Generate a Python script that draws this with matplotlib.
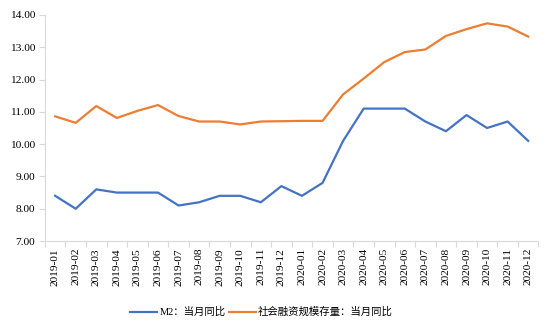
import matplotlib
matplotlib.use("Agg")
import matplotlib.pyplot as plt
from matplotlib.ticker import FixedLocator, NullFormatter

plt.rcParams['font.family'] = ['Liberation Serif', 'Noto Sans CJK SC', 'DejaVu Sans']

months = ["2019-01", "2019-02", "2019-03", "2019-04", "2019-05", "2019-06",
          "2019-07", "2019-08", "2019-09", "2019-10", "2019-11", "2019-12",
          "2020-01", "2020-02", "2020-03", "2020-04", "2020-05", "2020-06",
          "2020-07", "2020-08", "2020-09", "2020-10", "2020-11", "2020-12"]
m2 = [8.4, 8.0, 8.6, 8.5, 8.5, 8.5, 8.1, 8.2, 8.4, 8.4, 8.2, 8.7,
      8.4, 8.8, 10.1, 11.1, 11.1, 11.1, 10.7, 10.4, 10.9, 10.5, 10.7, 10.1]
tsf = [10.86, 10.66, 11.18, 10.81, 11.03, 11.21, 10.87, 10.70, 10.70, 10.61, 10.70, 10.71,
       10.72, 10.72, 11.54, 12.03, 12.54, 12.85, 12.93, 13.35, 13.56, 13.74, 13.64, 13.33]
series_names = ["M2：当月同比", "社会融资规模存量：当月同比"]
yticks = [7.0, 8.0, 9.0, 10.0, 11.0, 12.0, 13.0, 14.0]

fig = plt.figure(figsize=(5.54, 3.32), dpi=100)
ax = fig.add_axes([0.081, 0.274, 0.891, 0.681])

x = list(range(len(months)))
ax.plot(x, m2, color='#4472C4', lw=1.6, label=series_names[0])
ax.plot(x, tsf, color='#ED7D31', lw=1.6, label=series_names[1])

ax.set_xlim(-0.5, len(months) - 0.5)
ax.set_ylim(7.0, 14.0)
ax.set_yticks(yticks)
ax.set_yticklabels([f"{v:.2f}" for v in yticks], fontsize=8.2)

ax.set_xticks(x)
ax.set_xticklabels(months, rotation=90, fontsize=8.2)
ax.tick_params(axis='x', which='major', length=0, pad=5)
ax.xaxis.set_minor_locator(FixedLocator([i - 0.5 for i in range(len(months) + 1)]))
ax.xaxis.set_minor_formatter(NullFormatter())
ax.tick_params(axis='x', which='minor', length=4, color='#D9D9D9', width=0.8)
ax.tick_params(axis='y', length=4, color='#D9D9D9', width=0.8, pad=3)

for s in ['top', 'right']:
    ax.spines[s].set_visible(False)
for s in ['left', 'bottom']:
    ax.spines[s].set_color('#D9D9D9')
    ax.spines[s].set_linewidth(0.8)

leg = fig.legend(loc='center', bbox_to_anchor=(0.472, 0.06), ncol=2, frameon=False,
                 fontsize=7.5, handlelength=2.6, columnspacing=0.3, handletextpad=0.2)

fig.savefig("out.png", dpi=100)
